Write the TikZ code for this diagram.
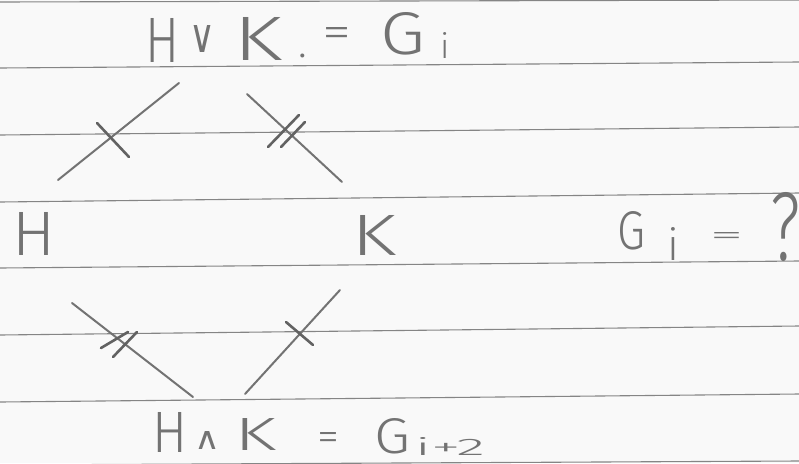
\documentclass[tikz,border=0pt]{standalone}
\usepackage{fontspec}
\usepackage{graphicx}
\newfontfamily\handfont{Fira Sans Light}
\newfontfamily\symfont{DejaVu Sans}
\definecolor{ink}{gray}{0.45}
\definecolor{rulecol}{gray}{0.52}
\definecolor{paper}{gray}{0.975}
\newcommand{\hg}[3]{\resizebox{#1pt}{#2pt}{\handfont #3}}
\newcommand{\hgh}[2]{\resizebox{!}{#1pt}{\handfont #2}}
\newcommand{\hs}[3]{\resizebox{#1pt}{#2pt}{\symfont #3}}
\begin{document}
\begin{tikzpicture}[x=1pt,y=-1pt,
  hw/.style={inner sep=0pt,outer sep=0pt,text=ink},
  pen/.style={draw=ink,line width=2pt,line cap=round},
  tickpen/.style={draw=ink!85!black,line width=2.6pt,line cap=round},
  ruleline/.style={draw=rulecol,line width=1.1pt}]
\fill[paper] (0,0) rectangle (799,463);
\useasboundingbox (0,0) rectangle (799,463);
% ruled paper
\draw[ruleline] (0,2) -- (799,0);
\draw[ruleline] (0,68) -- (799,62);
\draw[ruleline] (0,135) -- (799,127);
\draw[ruleline] (0,202) -- (799,193);
\draw[ruleline] (0,268) -- (799,261);
\draw[ruleline] (0,335) -- (799,326);
\draw[ruleline] (0,402) -- (799,394);
\draw[ruleline] (0,465) -- (799,461);
% top: H v K . = G_i
\node[hw] (tH) at (162,40) {\hg{34}{44}{H}};
\node[hw] (tOr) at (202.5,38.5) {\hs{26}{27}{∨}};
\node[hw] (tK) at (258,38.5) {\hg{49}{43}{K}};
\node[hw] (tDot) at (303,56) {\hgh{3.5}{.}};
\node[hw] (tEq) at (336.5,37) {\hg{29}{20}{=}};
\node[hw] (tG) at (403,34) {\hg{45}{42}{G}};
\node[hw] (ti) at (445,45) {\hgh{26}{i}};
% middle: H   K   G_i = ?
\node[hw] (mH) at (34,234) {\hg{43}{43}{H}};
\node[hw] (mK) at (374,235) {\hg{45}{40}{K}};
\node[hw] (mG) at (631.5,231) {\hg{28}{38}{G}};
\node[hw] (mi) at (673,243.5) {\hgh{33}{i}};
\node[hw] (mEq) at (726.5,238) {\hg{34}{12}{=}};
\node[hw] (mQ) at (785,227) {\hg{30}{68}{?}};
% bottom: H ^ K = G_{i+2}
\node[hw] (bH) at (169.5,432) {\hg{35}{40}{H}};
\node[hw] (bAnd) at (207,440) {\hs{26}{18}{∧}};
\node[hw] (bK) at (255.5,434) {\hg{42}{32}{K}};
\node[hw] (bEq) at (328.5,441) {\hg{22}{18}{=}};
\node[hw] (bG) at (392,436.5) {\hg{36}{35}{G}};
\node[hw] (bsub) at (450,446) {\hg{70}{18}{i+2}};
% connectors
\coordinate (ul1) at (58,180);  \coordinate (ul2) at (179,83);
\coordinate (ur1) at (247,94);  \coordinate (ur2) at (342,182);
\coordinate (ll1) at (72,303);  \coordinate (ll2) at (193,397);
\coordinate (lr1) at (245,394); \coordinate (lr2) at (340,290);
\draw[pen] (ul1) -- (ul2);
\draw[pen] (ur1) -- (ur2);
\draw[pen] (ll1) -- (ll2);
\draw[pen] (lr1) -- (lr2);
% ticks
\coordinate (t1a) at (97,123);  \coordinate (t1b) at (129,157);
\coordinate (t2a) at (268,147); \coordinate (t2b) at (299,115);
\coordinate (t2c) at (281,147); \coordinate (t2d) at (305,122);
\coordinate (t3a) at (101,348); \coordinate (t3b) at (128,332);
\coordinate (t3c) at (113,357); \coordinate (t3d) at (137,332);
\coordinate (t4a) at (286,322); \coordinate (t4b) at (313,345);
\draw[tickpen] (t1a) -- (t1b);
\draw[tickpen] (t2a) -- (t2b);
\draw[tickpen] (t2c) -- (t2d);
\draw[tickpen] (t3a) -- (t3b);
\draw[tickpen] (t3c) -- (t3d);
\draw[tickpen] (t4a) -- (t4b);
\end{tikzpicture}
\end{document}
